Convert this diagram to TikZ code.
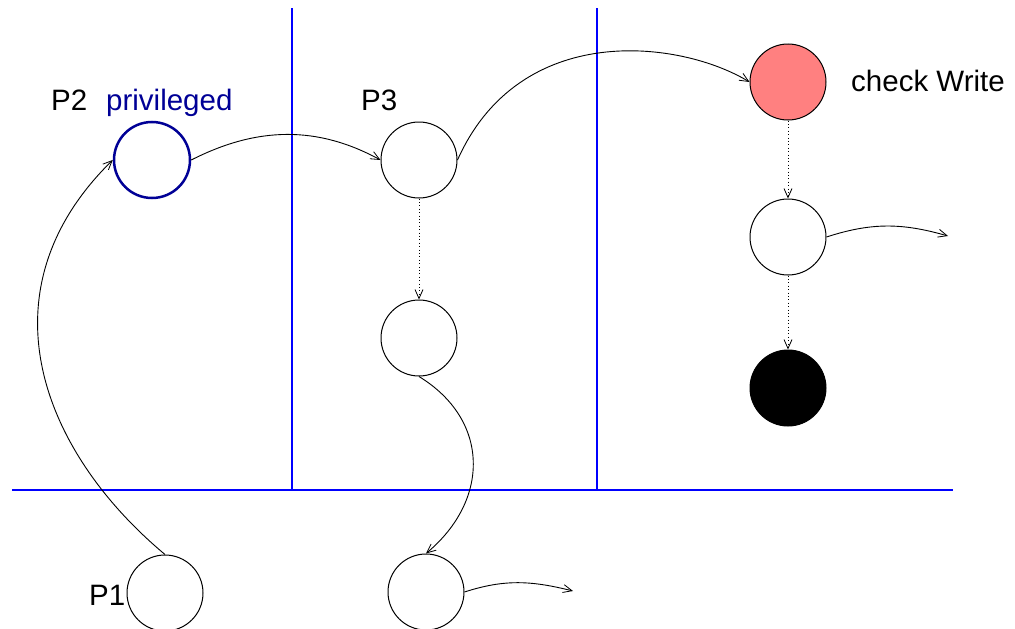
\documentclass[tikz,border=0pt]{standalone}
\usepackage{fontspec}
\setmainfont{Liberation Sans}
\usetikzlibrary{arrows.meta}
\definecolor{wallblue}{RGB}{0,0,255}
\definecolor{privblue}{RGB}{0,0,150}
\definecolor{checkred}{RGB}{255,128,128}
\begin{document}
\begin{tikzpicture}[x=1pt,y=-1pt,
  state/.style={circle,draw=black,line width=1pt,minimum size=76pt,inner sep=0pt,fill=white},
  privstate/.style={state,draw=privblue,line width=2.5pt},
  wall/.style={draw=wallblue,line width=2.5pt},
  flow/.style={line width=0.9pt,-{Straight Barb[length=9pt,width=8pt,line width=0.8pt]}},
  hop/.style={flow,dash pattern=on 1pt off 2.4pt},
  lbl/.style={inner sep=0pt,anchor=base west,font=\fontsize{29.5}{35}\selectfont}]
\useasboundingbox (0,0) rectangle (1015,629);

% protection boundaries
\coordinate (wa1) at (292,8);   \coordinate (wa2) at (292,490);
\coordinate (wb1) at (597,8);   \coordinate (wb2) at (597,490);
\coordinate (wh1) at (12,490);  \coordinate (wh2) at (953,490);
\draw[wall] (wa1) -- (wa2);
\draw[wall] (wb1) -- (wb2);
\draw[wall] (wh1) -- (wh2);

% states
\node[privstate] (p2) at (152,160) {};
\node[state] (p3) at (419,160) {};
\node[state] (p3b) at (419,338) {};
\node[state] (p1) at (165,593) {};
\node[state] (q1) at (426,592) {};
\node[state,fill=checkred] (chk) at (788,82) {};
\node[state] (r2) at (788,237) {};
\node[state,fill=black] (r3) at (788,388) {};

% labels
\node[lbl] (lp2) at (51,110) {P2};
\node[lbl,text=privblue] (lpriv) at (106,110) {privileged};
\node[lbl] (lp3) at (361,110) {P3};
\node[lbl] (lchk) at (851,91) {check Write};
\node[lbl] (lp1) at (89,605) {P1};

% free ends
\coordinate (e1) at (573,591);
\coordinate (e2) at (948,236);

% transitions
\draw[flow] (p1.north) .. controls (40,450) and (-20,290) .. (p2.west);
\draw[flow] (p2.east) .. controls (258,126) and (318,126) .. (p3.west);
\draw[flow] (p3.east) .. controls (520,20) and (680,40) .. (chk.west);
\draw[hop] (p3.south) -- (p3b.north);
\draw[flow] (p3b.south) .. controls (490,420) and (490,500) .. (q1.north);
\draw[flow] (q1.east) to[out=18,in=166] (e1);
\draw[hop] (chk.south) -- (r2.north);
\draw[hop] (r2.south) -- (r3.north);
\draw[flow] (r2.east) to[out=18,in=164] (e2);
\end{tikzpicture}
\end{document}
